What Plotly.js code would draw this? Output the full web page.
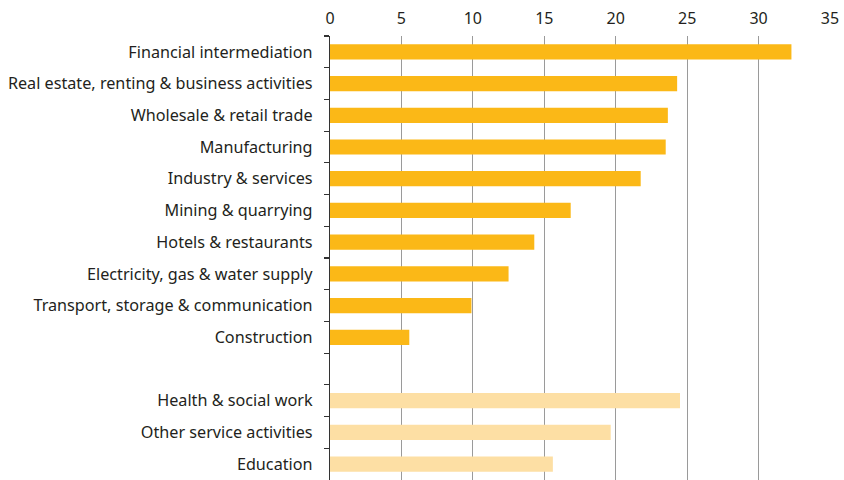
<!DOCTYPE html>
<html>
<head>
<meta charset="utf-8">
<script src="https://cdn.plot.ly/plotly-3.0.1.min.js"></script>
<style>html,body{margin:0;padding:0;background:#fff;}#chart{width:844px;height:480px;}</style>
</head>
<body>
<div id="chart"></div>
<script>
const industryCategories = [
  "Financial intermediation",
  "Real estate, renting & business activities",
  "Wholesale & retail trade",
  "Manufacturing",
  "Industry & services",
  "Mining & quarrying",
  "Hotels & restaurants",
  "Electricity, gas & water supply",
  "Transport, storage & communication",
  "Construction"
];
const industryValues = [32.3, 24.3, 23.65, 23.5, 21.75, 16.85, 14.3, 12.5, 9.9, 5.55];

const gapCategory = [" "];

const serviceCategories = [
  "Health & social work",
  "Other service activities",
  "Education"
];
const serviceValues = [24.5, 19.65, 15.6];

const xTicks = [0, 5, 10, 15, 20, 25, 30, 35];

const allCategories = industryCategories.concat(gapCategory, serviceCategories);

const traces = [
  {
    type: "bar", orientation: "h",
    x: industryValues.concat([0]), y: industryCategories.concat(gapCategory),
    marker: {color: "#FBB817", line: {width: 0}},
    hoverinfo: "skip"
  },
  {
    type: "bar", orientation: "h",
    x: serviceValues, y: serviceCategories,
    marker: {color: "#FDDFA4", line: {width: 0}},
    hoverinfo: "skip"
  }
];

const layout = {
  width: 844, height: 480,
  margin: {l: 330, r: 14, t: 36, b: 0, pad: 0},
  paper_bgcolor: "#fff", plot_bgcolor: "#fff",
  showlegend: false,
  barmode: "overlay",
  bargap: 0.52,
  font: {family: "Noto Sans, Open Sans, sans-serif", size: 16, color: "#231f20"},
  xaxis: {
    side: "top", range: [0, 35], tickvals: xTicks, ticktext: xTicks.map(String),
    showgrid: true, gridcolor: "#9a9a9a", gridwidth: 1,
    zeroline: false, showline: false, ticks: "",
    tickfont: {size: 16, color: "#231f20"}, ticklabelstandoff: 8, fixedrange: true
  },
  yaxis: {
    type: "category", categoryorder: "array", categoryarray: allCategories,
    range: [13.5, -0.5],
    showline: true, linecolor: "#333", linewidth: 1.2,
    ticks: "outside", tickson: "boundaries", ticklen: 5, tickcolor: "#333", tickwidth: 1.2,
    showgrid: false, zeroline: false,
    tickfont: {size: 16.2, color: "#231f20"}, ticklabelstandoff: 13, fixedrange: true
  }
};

Plotly.newPlot("chart", traces, layout, {displayModeBar: false, staticPlot: true});
</script>
</body>
</html>
